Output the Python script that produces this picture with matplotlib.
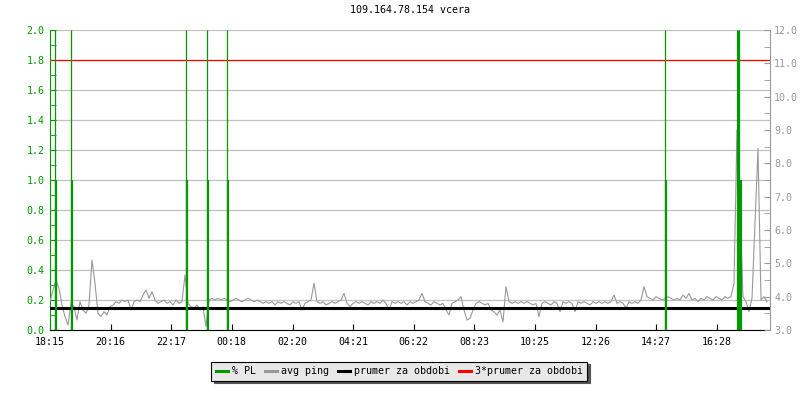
import matplotlib
matplotlib.use("Agg")
import matplotlib.pyplot as plt
from matplotlib.lines import Line2D
from matplotlib.ticker import MultipleLocator, FormatStrFormatter

plt.rcParams['font.family'] = ['DejaVu Sans Mono']
plt.rcParams['font.size'] = 7.2

title = "109.164.78.154 vcera"
start_label = "18:15"
time_labels = ["18:15", "20:16", "22:17", "00:18", "02:20", "04:21",
               "06:22", "08:23", "10:25", "12:26", "14:27", "16:28"]

# avg ping [ms], one sample every 6 minutes from 18:15
sample_step_h = 0.1
ping_ms = [
    3.85, 4.20, 4.50, 4.25, 3.75, 3.40, 3.15, 3.80, 3.70, 3.30,
    3.85, 3.60, 3.50, 3.75, 5.10, 4.40, 3.50, 3.40, 3.55, 3.45,
    3.70, 3.75, 3.85, 3.80, 3.90, 3.85, 3.90, 3.60, 3.85, 3.90,
    3.85, 4.05, 4.20, 3.95, 4.15, 3.90, 3.80, 3.85, 3.90, 3.80,
    3.85, 3.75, 3.90, 3.80, 3.85, 4.65, 3.80, 3.70, 3.65, 3.75,
    3.60, 3.70, 3.10, 3.90, 3.95, 3.90, 3.95, 3.90, 3.95, 3.90,
    3.85, 3.90, 3.95, 3.90, 3.85, 3.90, 3.95, 3.90, 3.85, 3.90,
    3.85, 3.80, 3.85, 3.80, 3.85, 3.75, 3.85, 3.80, 3.85, 3.80,
    3.75, 3.85, 3.80, 3.85, 3.60, 3.80, 3.85, 3.90, 4.40, 3.85,
    3.80, 3.85, 3.75, 3.80, 3.85, 3.80, 3.85, 3.90, 4.10, 3.80,
    3.70, 3.80, 3.85, 3.80, 3.85, 3.80, 3.75, 3.85, 3.80, 3.85,
    3.80, 3.90, 3.80, 3.60, 3.85, 3.80, 3.85, 3.80, 3.85, 3.75,
    3.85, 3.80, 3.85, 3.90, 4.10, 3.85, 3.80, 3.75, 3.85, 3.80,
    3.75, 3.80, 3.60, 3.45, 3.80, 3.85, 3.90, 4.00, 3.60, 3.30,
    3.35, 3.60, 3.80, 3.85, 3.80, 3.75, 3.80, 3.60, 3.55, 3.45,
    3.60, 3.25, 4.30, 3.85, 3.80, 3.85, 3.80, 3.85, 3.80, 3.85,
    3.80, 3.75, 3.80, 3.40, 3.80, 3.85, 3.80, 3.75, 3.85, 3.80,
    3.55, 3.85, 3.80, 3.85, 3.80, 3.55, 3.85, 3.80, 3.85, 3.80,
    3.75, 3.85, 3.80, 3.85, 3.80, 3.85, 3.80, 3.85, 4.05, 3.80,
    3.85, 3.80, 3.65, 3.85, 3.80, 3.85, 3.80, 3.90, 4.30, 4.00,
    3.95, 3.90, 4.00, 3.95, 3.90, 3.95, 4.00, 3.95, 3.90, 3.95,
    3.90, 4.05, 3.95, 4.10, 3.90, 3.95, 3.85, 3.95, 3.90, 4.00,
    3.95, 3.90, 4.00, 3.95, 3.90, 4.00, 3.95, 4.00, 4.40, 9.00,
    6.60, 4.00, 3.85, 3.55, 3.95, 6.20, 8.45, 3.90, 4.00, 3.85,
]

# packet loss [%]: tall spikes and the 1.0 part next to them (hours from 18:15)
pl_peak_time = [0.17, 0.70, 4.53, 5.23, 5.90, 20.50, 22.90, 22.93, 22.97]
pl_peak = [2.0, 2.0, 2.0, 2.0, 2.0, 2.0, 2.0, 2.0, 2.0]
pl_base_time = [0.19, 0.72, 4.55, 5.25, 5.92, 20.52, 23.02]
pl_base = [1.0, 1.0, 1.0, 1.0, 1.0, 1.0, 1.0]

mean_ping = 3.66       # prumer za obdobi
pl_limit = 1.8         # 3*prumer za obdobi

green = '#009900'
gray = '#999999'


def hours_since_start(label):
    h, m = map(int, label.split(':'))
    h0, m0 = map(int, start_label.split(':'))
    return ((h * 60 + m) - (h0 * 60 + m0)) % 1440 / 60


tick_pos = [hours_since_start(t) for t in time_labels]
ping_time = [i * sample_step_h for i in range(len(ping_ms))]

fig = plt.figure(figsize=(8, 4), dpi=100)
ax = fig.add_axes([0.0625, 0.175, 0.9, 0.75])
ax2 = ax.twinx()

# left axis: % PL
ax.set_xlim(0, 24)
ax.set_ylim(0, 2)
ax.yaxis.set_major_locator(MultipleLocator(0.2))
ax.yaxis.set_minor_locator(MultipleLocator(0.1))
ax.yaxis.set_major_formatter(FormatStrFormatter('%.1f'))
ax.grid(axis='y', color='#c0c0c0', lw=0.9)
ax.set_axisbelow(True)
ax.set_xticks(tick_pos, time_labels)
ax.tick_params(axis='y', which='both', direction='in', colors=green, length=4, pad=4)
ax.tick_params(axis='x', direction='in', length=4, pad=5)
ax.spines['left'].set_color(green)
ax.spines['top'].set_visible(False)
ax.spines['right'].set_visible(False)
ax.axhline(pl_limit, color='red', lw=0.9)

# right axis: avg ping
ax2.plot(ping_time, ping_ms, color=gray, lw=0.8, zorder=2)
ax2.axhline(mean_ping, color='black', lw=2.2, zorder=3)
ax2.vlines(pl_peak_time, 0, pl_peak, colors=green, lw=0.9,
           transform=ax.transData, zorder=4)
ax2.vlines(pl_base_time, 0, pl_base, colors=green, lw=1.6,
           transform=ax.transData, zorder=4)
ax2.set_xlim(0, 24)
ax2.set_ylim(3, 12)
ax2.yaxis.set_major_locator(MultipleLocator(1))
ax2.yaxis.set_minor_locator(MultipleLocator(0.5))
ax2.yaxis.set_major_formatter(FormatStrFormatter('%.1f'))
ax2.tick_params(axis='y', which='both', direction='in', colors=gray, length=4, pad=3)
for s in ['top', 'left', 'bottom']:
    ax2.spines[s].set_visible(False)
ax2.spines['right'].set_color(gray)

ax.set_title(title, fontsize=7.2, pad=12)

handles = [Line2D([], [], color=green, lw=2.2),
           Line2D([], [], color=gray, lw=2.2),
           Line2D([], [], color='black', lw=2.2),
           Line2D([], [], color='red', lw=2.2)]
labels = ["% PL", "avg ping", "prumer za obdobi", "3*prumer za obdobi"]
leg = fig.legend(handles, labels, loc='center', bbox_to_anchor=(0.499, 0.0725),
                 ncol=4, fancybox=False, shadow={'color': '#555555', 'alpha': 1},
                 edgecolor='black', facecolor='#e8e8e8', framealpha=1,
                 handlelength=1.2, handletextpad=0.4, columnspacing=0.9,
                 borderpad=0.45, fontsize=7.2)
leg.get_frame().set_linewidth(0.8)

fig.savefig('out.png', dpi=100)
